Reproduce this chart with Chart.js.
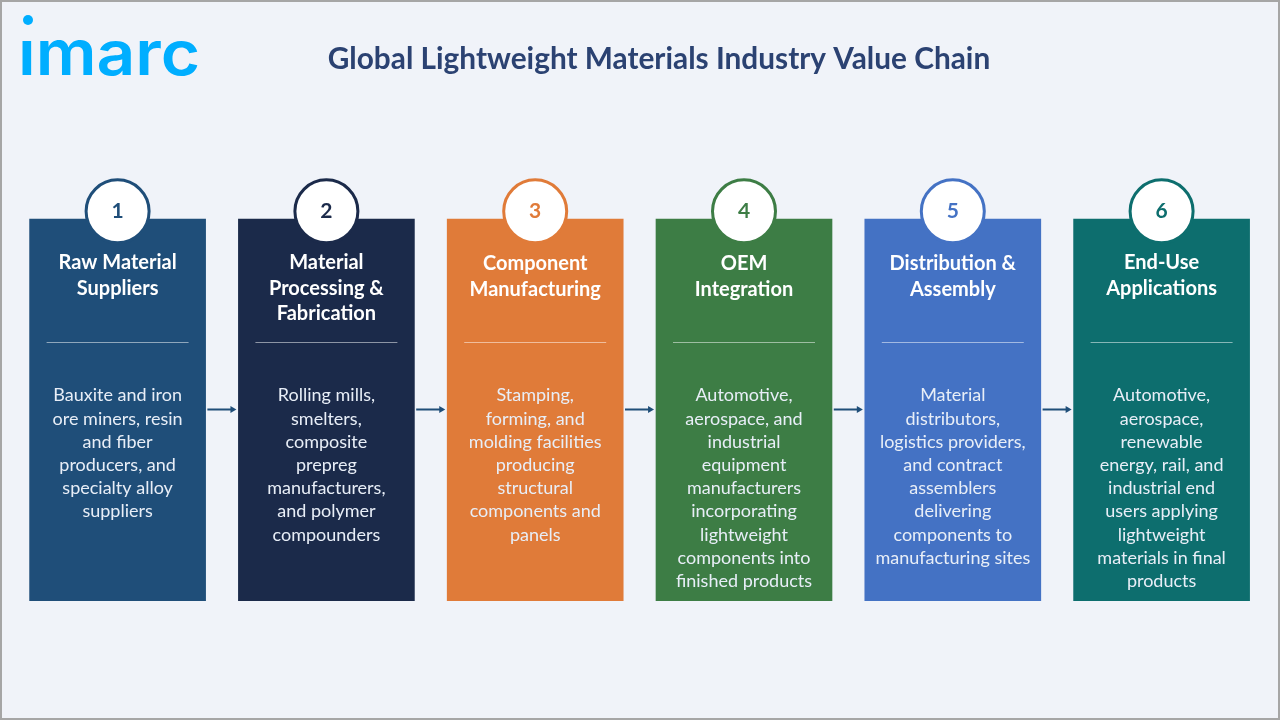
<!DOCTYPE html>
<html>
<head>
<meta charset="utf-8">
<title>Global Lightweight Materials Industry Value Chain</title>
<script src="https://cdn.jsdelivr.net/npm/chart.js@4"></script>
<style>
  html, body { margin: 0; padding: 0; background: #f0f3f9; }
  canvas { display: block; }
</style>
</head>
<body>
<canvas id="chart" width="1280" height="720"></canvas>
<script>
const stepNumbers = ['1', '2', '3', '4', '5', '6'];
const stepTitles = [
  ['Raw Material', 'Suppliers'],
  ['Material', 'Processing &', 'Fabrication'],
  ['Component', 'Manufacturing'],
  ['OEM', 'Integration'],
  ['Distribution &', 'Assembly'],
  ['End-Use', 'Applications']
];
const stepTexts = [
  ['Bauxite and iron', 'ore miners, resin', 'and fiber', 'producers, and', 'specialty alloy', 'suppliers'],
  ['Rolling mills,', 'smelters,', 'composite', 'prepreg', 'manufacturers,', 'and polymer', 'compounders'],
  ['Stamping,', 'forming, and', 'molding facilities', 'producing', 'structural', 'components and', 'panels'],
  ['Automotive,', 'aerospace, and', 'industrial', 'equipment', 'manufacturers', 'incorporating', 'lightweight', 'components into', 'finished products'],
  ['Material', 'distributors,', 'logistics providers,', 'and contract', 'assemblers', 'delivering', 'components to', 'manufacturing sites'],
  ['Automotive,', 'aerospace,', 'renewable', 'energy, rail, and', 'industrial end', 'users applying', 'lightweight', 'materials in final', 'products']
];
const stepColors = ['#1f4e79', '#1b2a4a', '#e07b39', '#3d7d45', '#4472c4', '#0d6e6e'];
const cardHeights = [100, 100, 100, 100, 100, 100];
const badgeLevels = [102, 102, 102, 102, 102, 102];
const arrowStarts = [0.43, 1.43, 2.43, 3.43, 4.43];
const arrowEnds = [0.55, 1.55, 2.55, 3.55, 4.55];
const arrowLevel = 50.13;
const dividerLevel = 67.67;
const dividerHalfWidth = 0.34;

const BG = '#f0f3f9';
const TITLE_LINE = 25.5;
const TEXT_LINE = 23.2;

// Text, logo and frame: the chart has no axes so these go on by hand
const textPlugin = {
  id: 'infographicText',
  beforeDraw(chart) {
    const ctx = chart.ctx;
    ctx.save();
    ctx.fillStyle = BG;
    ctx.fillRect(0, 0, chart.width, chart.height);
    ctx.restore();
  },
  afterDraw(chart) {
    const ctx = chart.ctx;
    const x = chart.scales.x;
    ctx.save();
    ctx.textAlign = 'center';
    ctx.textBaseline = 'middle';

    ctx.fillStyle = '#2b4272';
    ctx.font = 'bold 29.8px Lato';
    ctx.fillText('Global Lightweight Materials Industry Value Chain', 659, 59.5);

    stepTitles.forEach((lines, i) => {
      const cx = x.getPixelForValue(i);
      ctx.fillStyle = stepColors[i];
      ctx.font = 'bold 21px Lato';
      ctx.fillText(stepNumbers[i], cx, 211.5);

      ctx.fillStyle = '#ffffff';
      ctx.font = 'bold 20px Lato';
      const top = (i === 2 || i === 3 || i === 4) ? 264 : 263;
      lines.forEach((line, n) => ctx.fillText(line, cx, top + n * TITLE_LINE));

      ctx.fillStyle = '#e8eef7';
      ctx.font = '18px Lato';
      stepTexts[i].forEach((line, n) => ctx.fillText(line, cx, 395.5 + n * TEXT_LINE));
    });

    // logo
    ctx.textAlign = 'left';
    ctx.textBaseline = 'alphabetic';
    ctx.fillStyle = '#00aeff';
    ctx.font = '600 62px Inter';
    ctx.save();
    ctx.translate(18, 75);
    ctx.scale(1.09, 1);
    ctx.fillText('imarc', 0, 0);
    ctx.restore();
    ctx.fillStyle = BG;
    ctx.fillRect(18, 24, 20, 17);
    ctx.fillStyle = '#00aeff';
    ctx.beginPath();
    ctx.arc(28, 20, 5, 0, Math.PI * 2);
    ctx.fill();

    ctx.strokeStyle = '#a6a6a6';
    ctx.lineWidth = 2;
    ctx.strokeRect(1, 1, chart.width - 2, chart.height - 2);
    ctx.restore();
  }
};

const arrowPoints = [];
arrowStarts.forEach((start, i) => {
  arrowPoints.push({ x: start, y: arrowLevel }, { x: arrowEnds[i], y: arrowLevel }, { x: NaN, y: NaN });
});

new Chart(document.getElementById('chart'), {
  data: {
    datasets: [
      {
        type: 'scatter',
        order: 1,
        data: badgeLevels.map((level, i) => ({ x: i, y: level })),
        pointRadius: 31.5,
        pointBorderWidth: 3,
        pointBackgroundColor: '#ffffff',
        pointBorderColor: stepColors,
        clip: false
      },
      // one divider per card
      ...stepColors.map((color, i) => ({
        type: 'scatter',
        order: 2,
        showLine: true,
        data: [{ x: i - dividerHalfWidth, y: dividerLevel }, { x: i + dividerHalfWidth, y: dividerLevel }],
        borderColor: 'rgba(255,255,255,0.5)',
        borderWidth: 1,
        pointRadius: 0
      })),
      {
        type: 'scatter',
        order: 2,
        showLine: true,
        spanGaps: false,
        data: arrowPoints,
        borderColor: '#1f4e79',
        borderWidth: 2,
        pointStyle: 'triangle',
        pointRotation: 90,
        pointRadius: (c) => (c.dataIndex % 3 === 1 ? 4 : 0),
        pointBackgroundColor: '#1f4e79',
        pointBorderWidth: 0
      },
      {
        type: 'bar',
        order: 3,
        data: cardHeights.map((h, i) => ({ x: i, y: h })),
        backgroundColor: stepColors,
        barThickness: 176
      }
    ]
  },
  options: {
    responsive: false,
    animation: false,
    devicePixelRatio: 1,
    layout: { autoPadding: false, padding: { left: 13.2, right: 14, top: 0, bottom: 119 } },
    plugins: { legend: { display: false }, tooltip: { enabled: false } },
    scales: {
      x: { type: 'linear', min: -0.5, max: 5.5, offset: false, display: false },
      y: { min: 0, max: 157.33, display: false }
    }
  },
  plugins: [textPlugin]
});
</script>
</body>
</html>
